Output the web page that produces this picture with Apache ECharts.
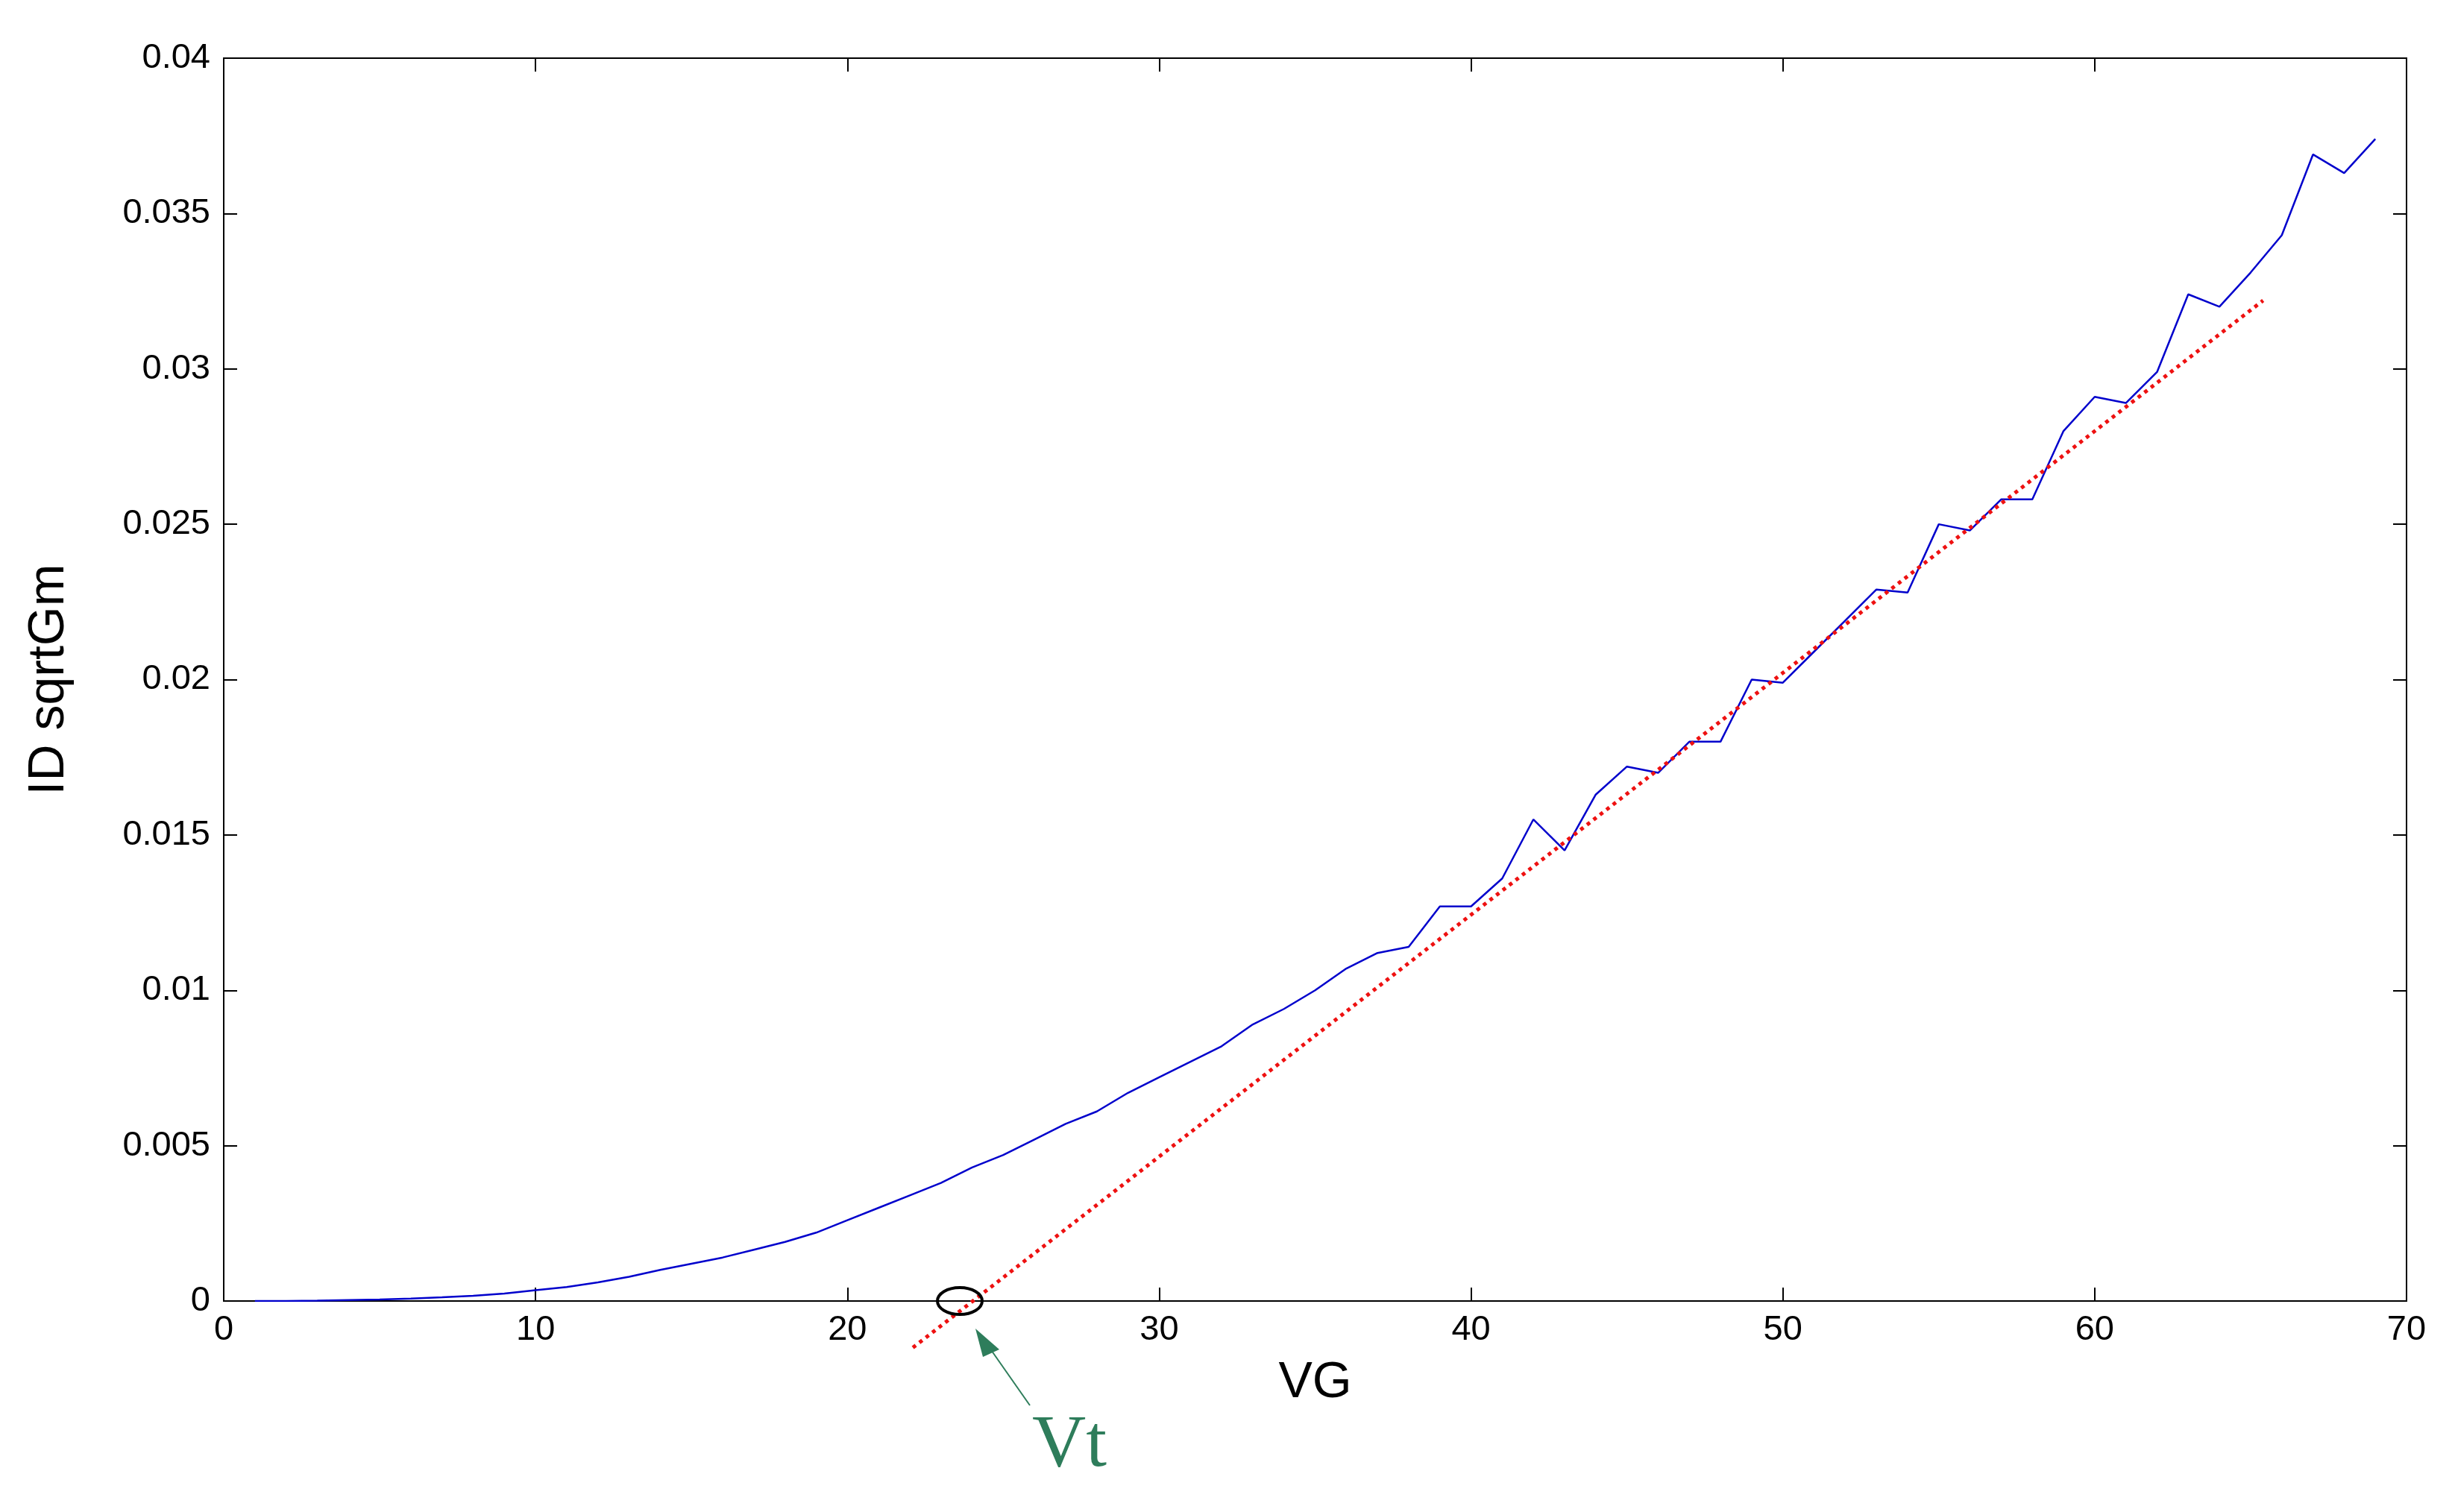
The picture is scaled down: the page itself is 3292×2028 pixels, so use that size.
<!DOCTYPE html>
<html>
<head>
<meta charset="utf-8">
<script src="https://cdn.jsdelivr.net/npm/echarts@6/dist/echarts.min.js"></script>
<style>html,body{margin:0;padding:0;background:#fff}#main{width:3292px;height:2028px}</style>
</head>
<body>
<div id="main"></div>
<script>
// measured curve: VG = 1..69
var vg = [];
for (var i = 1; i <= 69; i++) vg.push(i);
var idSqrtGm = [
  0, 0, 0.00001, 0.00003, 0.00005, 0.00008, 0.00012, 0.00017, 0.00024, 0.00035,
  0.00045, 0.0006, 0.00078, 0.001, 0.0012, 0.0014, 0.00165, 0.0019, 0.0022, 0.0026,
  0.003, 0.0034, 0.0038, 0.0043, 0.0047, 0.0052, 0.0057, 0.0061, 0.0067, 0.0072,
  0.0077, 0.0082, 0.0089, 0.0094, 0.0100, 0.0107, 0.0112, 0.0114, 0.0127, 0.0127,
  0.0136, 0.0155, 0.0145, 0.0163, 0.0172, 0.0170, 0.0180, 0.0180, 0.0200, 0.0199,
  0.0209, 0.0219, 0.0229, 0.0228, 0.0250, 0.0248, 0.0258, 0.0258, 0.0280, 0.0291,
  0.0289, 0.0299, 0.0324, 0.0320, 0.0331, 0.0343, 0.0369, 0.0363, 0.0374
];
// linear fit end points
var fitX = [22.1, 65.4];
var fitY = [-0.0015, 0.0322];

var chart = echarts.init(document.getElementById('main'));

var tickStyle = { show: true, inside: true, length: 18, lineStyle: { color: '#000', width: 2 } };
var lineStyle = { show: true, onZero: false, lineStyle: { color: '#000', width: 2 } };

var option = {
  backgroundColor: '#fff',
  animation: false,
  grid: { left: 300, right: 65, top: 78, bottom: 283, show: true,
    borderColor: '#000', borderWidth: 2, backgroundColor: 'transparent' },
  xAxis: [{
    type: 'value', min: 0, max: 70, interval: 10,
    name: 'VG', nameLocation: 'middle', nameGap: 76,
    nameTextStyle: { fontFamily: 'Liberation Sans', fontSize: 68, color: '#000' },
    axisLine: lineStyle, axisTick: tickStyle, splitLine: { show: false },
    axisLabel: { fontFamily: 'Liberation Sans', fontSize: 47, color: '#000', margin: 16 }
  }, {
    type: 'value', min: 0, max: 70, interval: 10, position: 'top',
    axisLine: lineStyle, axisTick: tickStyle, axisLabel: { show: false }, splitLine: { show: false }
  }],
  yAxis: [{
    type: 'value', min: 0, max: 0.04, interval: 0.005,
    name: 'ID sqrtGm', nameLocation: 'middle', nameGap: 200,
    nameTextStyle: { fontFamily: 'Liberation Sans', fontSize: 68, color: '#000' },
    axisLine: lineStyle, axisTick: tickStyle, splitLine: { show: false },
    axisLabel: { fontFamily: 'Liberation Sans', fontSize: 47, color: '#000', margin: 18,
      formatter: function (v) { return String(+v.toFixed(3)); } }
  }, {
    type: 'value', min: 0, max: 0.04, interval: 0.005, position: 'right',
    axisLine: lineStyle, axisTick: tickStyle, axisLabel: { show: false }, splitLine: { show: false }
  }],
  series: [{
    type: 'line', name: 'data',
    data: vg.map(function (x, i) { return [x, idSqrtGm[i]]; }),
    showSymbol: false, lineStyle: { color: '#0000cc', width: 2.5 }, z: 3
  }, {
    type: 'line', name: 'fit',
    data: fitX.map(function (x, i) { return [x, fitY[i]]; }),
    showSymbol: false, clip: false,
    lineStyle: { color: '#ee1111', width: 5, type: [5, 6] }, z: 4
  }, {
    // keeps the mirrored top/right axes alive
    type: 'line', name: 'mirror', xAxisIndex: 1, yAxisIndex: 1,
    data: [], showSymbol: false, silent: true
  }],
  graphic: [
    { type: 'ellipse', shape: { cx: 1287, cy: 1745, rx: 30, ry: 18 },
      style: { fill: null, stroke: '#000', lineWidth: 4 }, z: 10 },
    { type: 'line', shape: { x1: 1381, y1: 1885, x2: 1318, y2: 1795 },
      style: { stroke: '#2e7d5b', lineWidth: 2 }, z: 10 },
    { type: 'polygon', shape: { points: [[1308, 1782], [1340, 1810], [1318, 1820]] },
      style: { fill: '#2e7d5b' }, z: 10 },
    { type: 'text', left: 1384, top: 1890,
      style: { text: 'Vt', font: '100px "Liberation Serif"', fill: '#2e7d5b' }, z: 10 }
  ]
};
chart.setOption(option);
</script>
</body>
</html>
